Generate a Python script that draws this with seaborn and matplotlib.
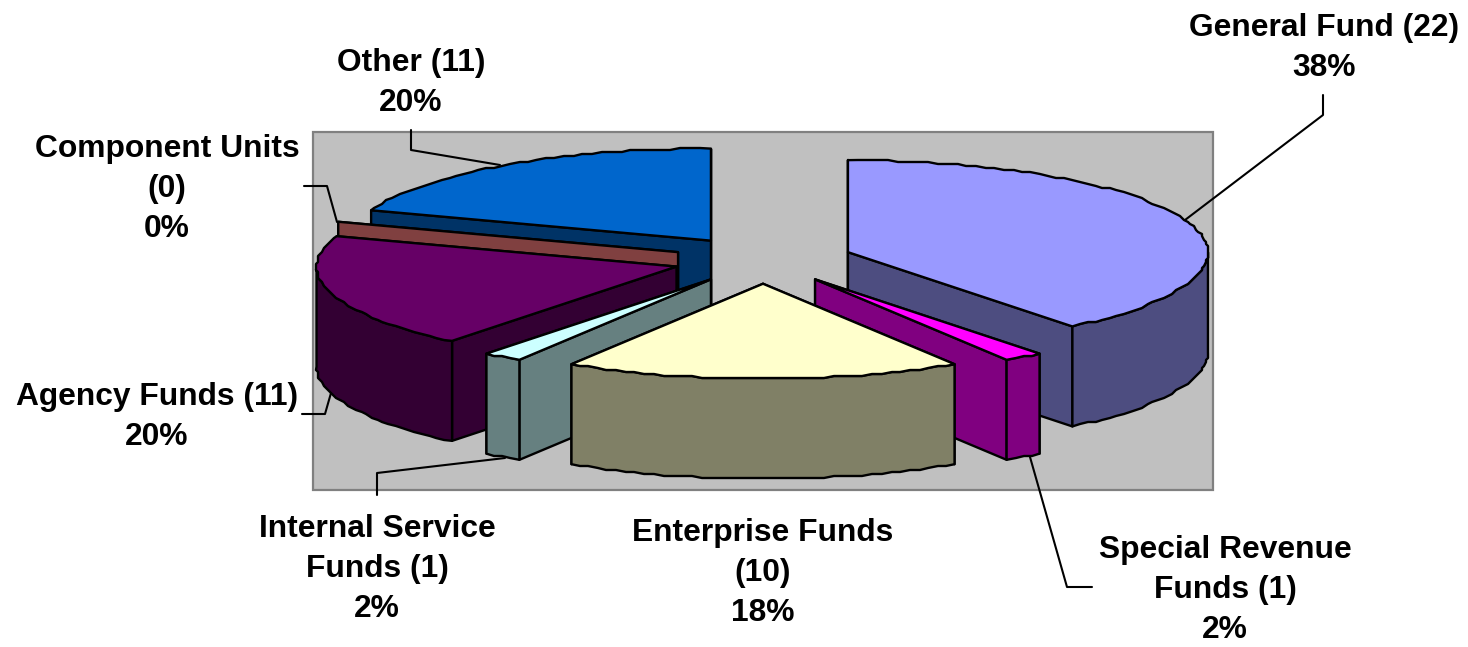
import numpy as np
import pandas as pd
import matplotlib
matplotlib.use('Agg')
import matplotlib.pyplot as plt
import seaborn as sns

# Slices in clockwise order starting from 12 o'clock
fund_names = ['General Fund', 'Special Revenue Funds', 'Enterprise Funds', 'Internal Service Funds',
              'Agency Funds', 'Component Units', 'Other']
fund_counts = [22, 1, 10, 1, 11, 0, 11]
fund_labels = ['General Fund (22)\n38%', 'Special Revenue\nFunds (1)\n2%', 'Enterprise Funds\n(10)\n18%',
               'Internal Service\nFunds (1)\n2%', 'Agency Funds (11)\n20%', 'Component Units\n(0)\n0%',
               'Other (11)\n20%']
top_colors = ['#9999FF', '#FF00FF', '#FFFFCC', '#CCFFFF', '#660066', '#FF8080', '#0066CC']

# Pie layout, in pixels of the picture
center_x, center_y = 763, 260
radius_x, radius_y = 360, 95
radius_back = 92  # far half of the ellipse is a bit flatter (perspective)
depth = 100
explode = 0.25
draw_order = [6, 5, 4, 0, 3, 1, 2]
label_pos = [(1324, 48), (1225, 590), (763, 573), (377, 569), (157, 417), (167, 189), (411, 83)]
leaders = [[(1323, 95), (1323, 115), (1185, 220)],
           [(1030, 457), (1067, 587), (1092, 587)],
           [],
           [(377, 495), (377, 473), (505, 458)],
           [(302, 414), (325, 414), (331, 393)],
           [(304, 186), (327, 186), (337, 222)],
           [(411, 130), (411, 150), (500, 165)]]

df = pd.DataFrame({'fund': fund_names, 'count': fund_counts, 'label': fund_labels})
df['end'] = df['count'].cumsum() / df['count'].sum() * 360
df['start'] = df['end'] - df['count'] / df['count'].sum() * 360
df['mid'] = (df['start'] + df['end']) / 2
df['color'] = sns.color_palette(top_colors)

sns.set_theme(style='white')
plt.rcParams['font.family'] = ['Liberation Sans', 'DejaVu Sans']

fig, ax = plt.subplots(figsize=(14.68, 6.47), dpi=100)
fig.subplots_adjust(0, 0, 1, 1)
ax.set_xlim(0, 1468)
ax.set_ylim(647, 0)
ax.axis('off')

# Grey back wall
ax.fill([313, 1213, 1213, 313], [132, 132, 490, 490], fc='#C0C0C0', ec='#808080', lw=1.6, zorder=0)


def rim(cx, cy, a, b):
    # Outer edge between two angles, snapped to a small grid like the low-res original
    n = max(int(abs(b - a) / 1.6), 1)
    t = np.radians(np.linspace(a, b, n + 1))
    x = cx + radius_x * np.sin(t)
    c = np.cos(t)
    y = cy - np.where(c > 0, radius_back, radius_y) * c
    x[1:-1] = np.round(x[1:-1] / 2) * 2
    y[1:-1] = np.round(y[1:-1] / 2) * 2
    return x, y


line = dict(ec='black', lw=1.7, joinstyle='round')
z = 1
for i in draw_order:
    row = df.iloc[i]
    side = tuple(c * 0.5 for c in row['color'])
    mid = np.radians(row['mid'])
    cx = center_x + explode * radius_x * np.sin(mid)
    cy = center_y - explode * radius_y * np.cos(mid)

    # Flat cut faces first, the one facing the viewer last
    cuts = (row['start'], row['end']) if row['mid'] < 180 else (row['end'], row['start'])
    for a in cuts:
        x, y = rim(cx, cy, a, a)
        ax.fill([cx, x[0], x[0], cx], [cy, y[0], y[0] + depth, cy + depth], fc=side, zorder=z, **line)

    # Curved outer wall, only where it faces the viewer
    a, b = max(row['start'], 90), min(row['end'], 270)
    if b > a:
        x, y = rim(cx, cy, a, b)
        ax.fill(np.r_[x, x[::-1]], np.r_[y, y[::-1] + depth], fc=side, zorder=z, **line)

    # Top
    if row['end'] > row['start']:
        x, y = rim(cx, cy, row['start'], row['end'])
        ax.fill(np.r_[cx, x], np.r_[cy, y], fc=row['color'], zorder=z, **line)
    z += 1

for i, row in df.iterrows():
    ax.text(*label_pos[i], row['label'], ha='center', va='center', fontsize=22.9, fontweight='bold',
            color='black', linespacing=1.45, zorder=20)
    if leaders[i]:
        ax.plot(*zip(*leaders[i]), color='black', lw=1.5, zorder=19)

fig.savefig('out.png', dpi=100, facecolor='white')
